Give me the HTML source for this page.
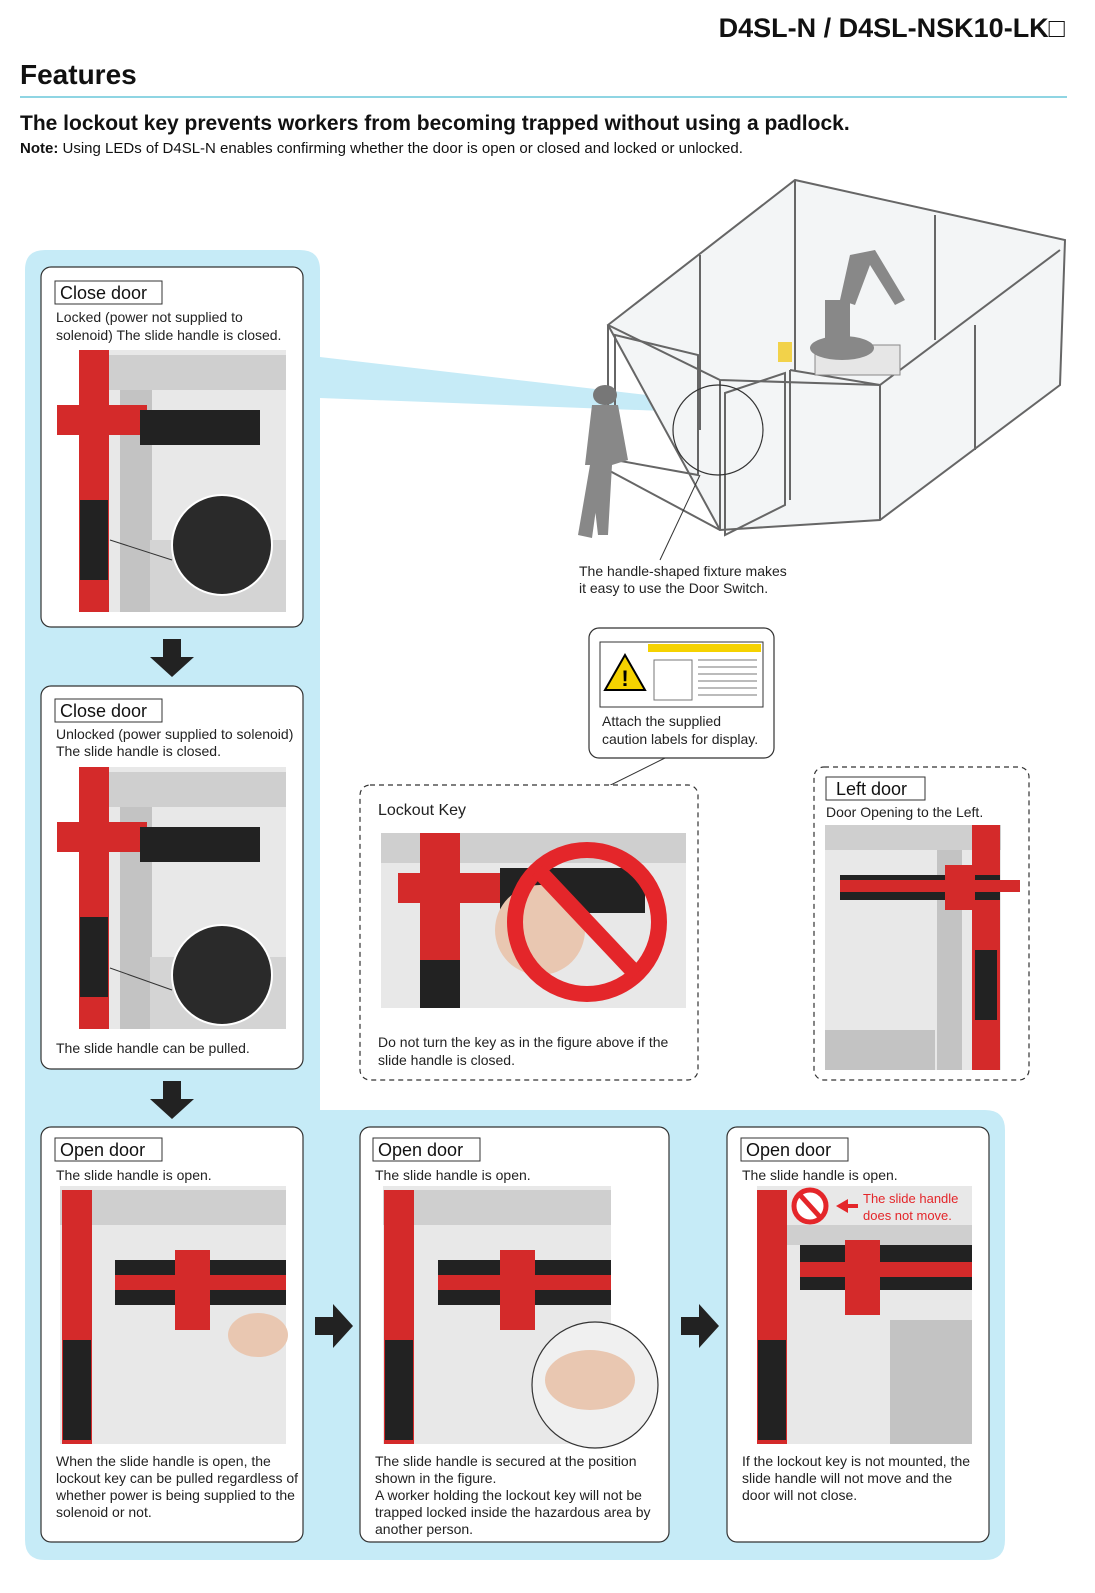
<!DOCTYPE html>
<html><head><meta charset="utf-8"><style>
html,body{margin:0;padding:0;background:#fff;}
svg{display:block;font-family:"Liberation Sans",Arial,sans-serif;}
</style></head><body>
<svg width="1095" height="1593" viewBox="0 0 1095 1593" xmlns="http://www.w3.org/2000/svg">
<defs>
<g id="arrD"><rect x="-9" y="-18" width="18" height="18" fill="#222"/><polygon points="-22,0 22,0 0,20" fill="#222"/></g>
<g id="arrR"><rect x="-18" y="-9" width="18" height="18" fill="#222"/><polygon points="0,-22 0,22 20,0" fill="#222"/></g>
</defs>
<!-- header -->
<text x="1065" y="37" text-anchor="end" font-size="27" font-weight="bold" fill="#111">D4SL-N / D4SL-NSK10-LK□</text>
<text x="20" y="84" font-size="28" font-weight="bold" fill="#111">Features</text>
<line x1="20" y1="97" x2="1067" y2="97" stroke="#8fd5e3" stroke-width="2"/>
<text x="20" y="130" font-size="21" font-weight="bold" fill="#111">The lockout key prevents workers from becoming trapped without using a padlock.</text>
<text x="20" y="153" font-size="15" fill="#111"><tspan font-weight="bold">Note:</tspan> Using  LEDs of  D4SL-N enables confirming whether the door is open or closed and locked or unlocked.</text>

<!-- blue background -->
<path d="M45,250 H300 Q320,250 320,270 V1110 H985 Q1005,1110 1005,1130 V1540 Q1005,1560 985,1560 H45 Q25,1560 25,1540 V270 Q25,250 45,250 Z" fill="#c6ebf7"/>
<polygon points="320,357 320,398 690,412 690,400" fill="#c6ebf7"/>

<!-- cage drawing -->
<g fill="none" stroke="#666" stroke-width="2">
<polygon points="608,325 795,180 1065,240 1060,385 880,520 720,530" fill="#f3f5f6"/>
<polyline points="608,325 608,470 720,530"/>
<polyline points="795,180 795,370"/>
<polyline points="935,215 935,340"/>
<polyline points="700,255 700,430"/>
<polyline points="720,380 720,530"/>
<polyline points="790,370 790,500"/>
<polyline points="880,385 880,520"/>
<polyline points="975,325 975,450"/>
<polyline points="608,325 720,380 880,385 1060,250"/>
<polyline points="790,370 880,385"/>
<polygon points="725,393 785,373 785,505 725,535"/>
<polygon points="615,335 698,355 698,475 615,460"/>
<circle cx="718" cy="430" r="45" stroke="#333" stroke-width="1.2"/>
<line x1="700" y1="475" x2="660" y2="560" stroke="#333" stroke-width="1"/>
</g>
<g fill="#888">
<rect x="815" y="345" width="85" height="30" fill="#e6e6e6" stroke="#888"/>
<ellipse cx="842" cy="348" rx="32" ry="12"/>
<rect x="825" y="300" width="25" height="45"/>
<polygon points="840,300 850,255 875,250 905,300 895,305 870,265 855,305"/>
<rect x="778" y="342" width="14" height="20" fill="#f2d24a"/>
<ellipse cx="605" cy="395" rx="12" ry="10" fill="#777"/>
<polygon points="592,405 618,405 628,460 612,465 608,535 598,535 590,465 585,465"/>
<polygon points="590,465 578,535 592,538 600,480"/>
</g>
<text x="579" y="576" font-size="14" fill="#222">The handle-shaped fixture makes</text>
<text x="579" y="593" font-size="14" fill="#222">it easy to use the Door Switch.</text>

<!-- caution label box -->
<rect x="589" y="628" width="185" height="130" rx="10" fill="#fff" stroke="#333" stroke-width="1.2"/>
<rect x="600" y="642" width="163" height="65" fill="#fff" stroke="#333"/>
<rect x="648" y="644" width="113" height="8" fill="#f5d200"/>
<polygon points="625,655 605,690 645,690" fill="#f5d200" stroke="#000" stroke-width="2"/>
<text x="625" y="686" font-size="22" text-anchor="middle" font-weight="bold">!</text>
<g stroke="#777" stroke-width="1"><line x1="698" y1="660" x2="757" y2="660"/><line x1="698" y1="667" x2="757" y2="667"/><line x1="698" y1="674" x2="757" y2="674"/><line x1="698" y1="681" x2="757" y2="681"/><line x1="698" y1="688" x2="757" y2="688"/><line x1="698" y1="695" x2="757" y2="695"/><rect x="654" y="660" width="38" height="40" fill="none"/></g>
<text x="602" y="726" font-size="14" fill="#222">Attach the supplied</text>
<text x="602" y="744" font-size="14" fill="#222">caution labels for display.</text>
<line x1="665" y1="758" x2="520" y2="830" stroke="#333" stroke-width="1"/>

<!-- dashed lockout key -->
<rect x="360" y="785" width="338" height="295" rx="10" fill="#fff" stroke="#333" stroke-width="1.2" stroke-dasharray="5,4"/>
<text x="378" y="815" font-size="16" fill="#222">Lockout Key</text>
<rect x="381" y="833" width="305" height="175" fill="#e8e8e8"/>
<rect x="381" y="833" width="305" height="30" fill="#cfcfcf"/>
<rect x="420" y="833" width="40" height="175" fill="#d42a2a"/>
<rect x="398" y="873" width="120" height="30" fill="#d42a2a"/>
<rect x="500" y="868" width="145" height="45" fill="#222"/>
<rect x="420" y="960" width="40" height="48" fill="#222"/>
<ellipse cx="540" cy="930" rx="45" ry="45" fill="#e9c7b1"/>
<circle cx="587" cy="922" r="72" fill="none" stroke="#e4262a" stroke-width="16"/>
<line x1="538" y1="870" x2="636" y2="974" stroke="#e4262a" stroke-width="16"/>
<text x="378" y="1047" font-size="14" fill="#222">Do not turn the key as in the figure above if the</text>
<text x="378" y="1065" font-size="14" fill="#222">slide handle is closed.</text>

<!-- dashed left door -->
<rect x="814" y="767" width="215" height="313" rx="10" fill="#fff" stroke="#333" stroke-width="1.2" stroke-dasharray="5,4"/>
<rect x="826" y="777" width="99" height="23" fill="#fff" stroke="#333"/>
<text x="836" y="795" font-size="18" fill="#111">Left door</text>
<text x="826" y="817" font-size="14" fill="#222">Door Opening to the Left.</text>
<rect x="825" y="825" width="176" height="245" fill="#e8e8e8"/>
<rect x="825" y="825" width="176" height="25" fill="#cfcfcf"/>
<rect x="937" y="850" width="25" height="220" fill="#c3c3c3"/>
<rect x="972" y="825" width="28" height="245" fill="#d42a2a"/>
<rect x="975" y="950" width="22" height="70" fill="#222"/>
<rect x="840" y="875" width="160" height="25" fill="#222"/>
<rect x="840" y="880" width="180" height="12" fill="#d42a2a"/>
<rect x="945" y="865" width="30" height="45" fill="#d42a2a"/>
<rect x="825" y="1030" width="110" height="40" fill="#c3c3c3"/>

<!-- panel 1 -->
<rect x="41" y="267" width="262" height="360" rx="10" fill="#fff" stroke="#333" stroke-width="1.2"/>
<rect x="55" y="281" width="107" height="23" fill="#fff" stroke="#333"/>
<text x="60" y="299" font-size="18" fill="#111">Close door</text>
<text x="56" y="322" font-size="14" fill="#222">Locked (power not supplied to</text>
<text x="56" y="340" font-size="14" fill="#222">solenoid) The slide handle is closed.</text>
<g>
<rect x="79" y="350" width="207" height="262" fill="#e8e8e8"/>
<rect x="79" y="355" width="207" height="35" fill="#cfcfcf"/>
<rect x="120" y="390" width="32" height="222" fill="#c3c3c3"/>
<rect x="79" y="350" width="30" height="262" fill="#d42a2a"/>
<rect x="80" y="500" width="28" height="80" fill="#222"/>
<rect x="57" y="405" width="90" height="30" fill="#d42a2a"/>
<rect x="140" y="410" width="120" height="35" fill="#222"/>
<rect x="150" y="540" width="136" height="72" fill="#d4d4d4"/>
<circle cx="222" cy="545" r="50" fill="#2a2a2a" stroke="#fff" stroke-width="2"/>
<line x1="110" y1="540" x2="172" y2="560" stroke="#333"/>
</g>
<use href="#arrD" x="172" y="657"/>

<!-- panel 2 -->
<rect x="41" y="686" width="262" height="383" rx="10" fill="#fff" stroke="#333" stroke-width="1.2"/>
<rect x="55" y="699" width="107" height="23" fill="#fff" stroke="#333"/>
<text x="60" y="717" font-size="18" fill="#111">Close door</text>
<text x="56" y="739" font-size="14" fill="#222">Unlocked (power supplied to solenoid)</text>
<text x="56" y="756" font-size="14" fill="#222">The slide handle is closed.</text>
<g>
<rect x="79" y="767" width="207" height="262" fill="#e8e8e8"/>
<rect x="79" y="772" width="207" height="35" fill="#cfcfcf"/>
<rect x="120" y="807" width="32" height="222" fill="#c3c3c3"/>
<rect x="79" y="767" width="30" height="262" fill="#d42a2a"/>
<rect x="80" y="917" width="28" height="80" fill="#222"/>
<rect x="57" y="822" width="90" height="30" fill="#d42a2a"/>
<rect x="140" y="827" width="120" height="35" fill="#222"/>
<rect x="150" y="957" width="136" height="72" fill="#d4d4d4"/>
<circle cx="222" cy="975" r="50" fill="#2a2a2a" stroke="#fff" stroke-width="2"/>
<line x1="110" y1="968" x2="172" y2="990" stroke="#333"/>
</g>
<text x="56" y="1053" font-size="14" fill="#222">The slide handle can be pulled.</text>
<use href="#arrD" x="172" y="1099"/>

<!-- panel 3 -->
<rect x="41" y="1127" width="262" height="415" rx="10" fill="#fff" stroke="#333" stroke-width="1.2"/>
<rect x="55" y="1138" width="107" height="23" fill="#fff" stroke="#333"/>
<text x="60" y="1156" font-size="18" fill="#111">Open door</text>
<text x="56" y="1180" font-size="14" fill="#222">The slide handle is open.</text>
<rect x="60" y="1186" width="226" height="258" fill="#e8e8e8"/>
<rect x="60" y="1190" width="226" height="35" fill="#cfcfcf"/>
<rect x="62" y="1190" width="30" height="254" fill="#d42a2a"/>
<rect x="63" y="1340" width="28" height="100" fill="#222"/>
<rect x="115" y="1260" width="171" height="45" fill="#222"/>
<rect x="115" y="1275" width="171" height="15" fill="#d42a2a"/>
<rect x="175" y="1250" width="35" height="80" fill="#d42a2a"/>
<ellipse cx="258" cy="1335" rx="30" ry="22" fill="#e9c7b1"/>
<text x="56" y="1466" font-size="14" fill="#222">When the slide handle is open, the</text>
<text x="56" y="1483" font-size="14" fill="#222">lockout key can be pulled regardless of</text>
<text x="56" y="1500" font-size="14" fill="#222">whether power is being supplied to the</text>
<text x="56" y="1517" font-size="14" fill="#222">solenoid or not.</text>
<use href="#arrR" x="333" y="1326"/>

<!-- panel 4 -->
<rect x="360" y="1127" width="309" height="415" rx="10" fill="#fff" stroke="#333" stroke-width="1.2"/>
<rect x="373" y="1138" width="107" height="23" fill="#fff" stroke="#333"/>
<text x="378" y="1156" font-size="18" fill="#111">Open door</text>
<text x="375" y="1180" font-size="14" fill="#222">The slide handle is open.</text>
<rect x="383" y="1186" width="228" height="258" fill="#e8e8e8"/>
<rect x="383" y="1190" width="228" height="35" fill="#cfcfcf"/>
<rect x="384" y="1190" width="30" height="254" fill="#d42a2a"/>
<rect x="385" y="1340" width="28" height="100" fill="#222"/>
<rect x="438" y="1260" width="173" height="45" fill="#222"/>
<rect x="438" y="1275" width="173" height="15" fill="#d42a2a"/>
<rect x="500" y="1250" width="35" height="80" fill="#d42a2a"/>
<circle cx="595" cy="1385" r="63" fill="#f0f0f0" stroke="#333" stroke-width="1.2"/>
<ellipse cx="590" cy="1380" rx="45" ry="30" fill="#e9c7b1"/>
<text x="375" y="1466" font-size="14" fill="#222">The slide handle is secured at the position</text>
<text x="375" y="1483" font-size="14" fill="#222">shown in the figure.</text>
<text x="375" y="1500" font-size="14" fill="#222">A worker holding the lockout key will not be</text>
<text x="375" y="1517" font-size="14" fill="#222">trapped locked inside the hazardous area by</text>
<text x="375" y="1534" font-size="14" fill="#222">another person.</text>
<use href="#arrR" x="699" y="1326"/>

<!-- panel 5 -->
<rect x="727" y="1127" width="262" height="415" rx="10" fill="#fff" stroke="#333" stroke-width="1.2"/>
<rect x="741" y="1138" width="107" height="23" fill="#fff" stroke="#333"/>
<text x="746" y="1156" font-size="18" fill="#111">Open door</text>
<text x="742" y="1180" font-size="14" fill="#222">The slide handle is open.</text>
<rect x="757" y="1186" width="215" height="258" fill="#e8e8e8"/>
<rect x="757" y="1225" width="215" height="20" fill="#cfcfcf"/>
<rect x="757" y="1190" width="30" height="254" fill="#d42a2a"/>
<rect x="758" y="1340" width="28" height="100" fill="#222"/>
<rect x="800" y="1245" width="172" height="45" fill="#222"/>
<rect x="800" y="1262" width="172" height="15" fill="#d42a2a"/>
<rect x="845" y="1240" width="35" height="75" fill="#d42a2a"/>
<rect x="890" y="1320" width="82" height="124" fill="#c3c3c3"/>
<circle cx="810" cy="1206" r="16" fill="#fff" stroke="#e4262a" stroke-width="5"/>
<line x1="800" y1="1195" x2="820" y2="1217" stroke="#e4262a" stroke-width="5"/>
<polygon points="836,1206 848,1199 848,1213" fill="#e4262a"/><rect x="846" y="1204" width="12" height="4" fill="#e4262a"/>
<text x="863" y="1203" font-size="13" fill="#e4262a">The slide handle</text>
<text x="863" y="1220" font-size="13" fill="#e4262a">does not move.</text>
<text x="742" y="1466" font-size="14" fill="#222">If the lockout key is not mounted, the</text>
<text x="742" y="1483" font-size="14" fill="#222">slide handle will not move and the</text>
<text x="742" y="1500" font-size="14" fill="#222">door will not close.</text>
</svg>
</body></html>
